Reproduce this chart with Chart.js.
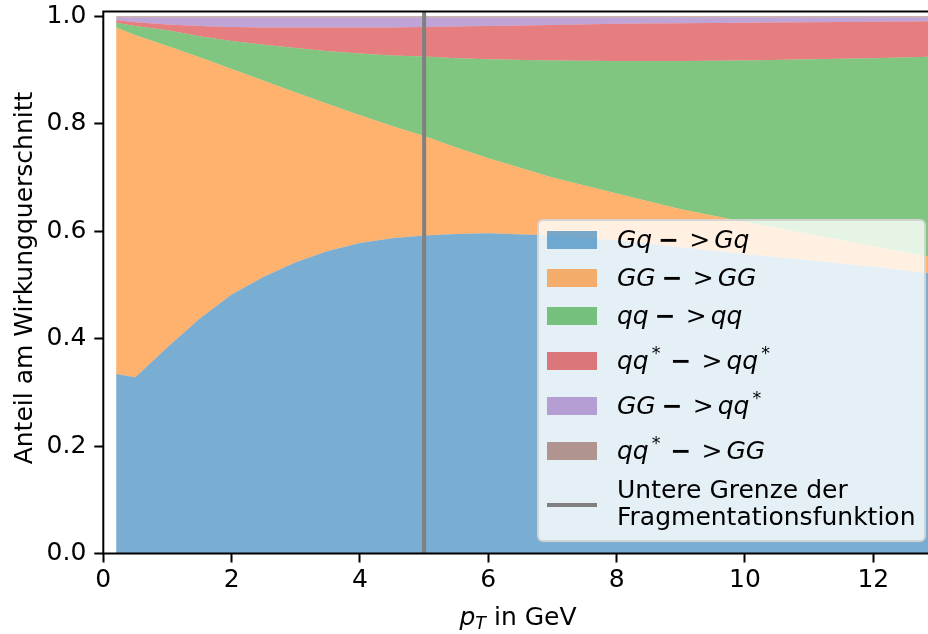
<!DOCTYPE html>
<html>
<head>
<meta charset="utf-8">
<script src="https://cdn.jsdelivr.net/npm/chart.js@4.4.1/dist/chart.umd.min.js"></script>
<style>
  html, body { margin:0; padding:0; background:#fff; overflow:hidden; }
  body { width:928px; height:634px; position:relative; font-family:'DejaVu Sans', sans-serif; color:#000; }
  #wrap { position:absolute; left:0; top:0; width:940px; height:634px; }
  #xtitle { position:absolute; left:318px; top:602px; width:400px; text-align:center; font-size:25px; line-height:30px; white-space:nowrap; }
  #xtitle sub { font-size:0.7em; line-height:0; vertical-align:-0.22em; }
  #ytitle { position:absolute; left:-226px; top:263px; width:500px; height:30px; text-align:center; font-size:25px; line-height:30px; transform:rotate(-90deg); white-space:nowrap; }
  #legend { position:absolute; left:537px; top:219px; width:389px; height:323px; box-sizing:border-box;
            background:rgba(255,255,255,0.8); border:2px solid rgba(204,204,204,0.8); border-radius:6px; font-size:25px; }
  .row { position:relative; height:38px; }
  .row.star { height:45px; }
  .row .h { position:absolute; left:8px; width:50px; height:18px; top:10px; }
  .row.star .h { top:17px; }
  .row .t { position:absolute; left:78px; top:4px; line-height:30px; white-space:nowrap; }
  .row.star .t { top:11px; }
  .row.cut { height:70px; }
  .row.cut .h { height:4px; top:33px; }
  .row.cut .t { top:6px; line-height:27px; }
  .mi { margin:0 10px 0 6px; font-weight:bold; }
  .gt { margin-right:4px; }
  sup.st { font-size:0.7em; font-style:normal; line-height:0; vertical-align:baseline; position:relative; top:-0.6em; margin:0 4px 0 3px; }
</style>
</head>
<body>
<div id="wrap"><canvas id="chart" width="940" height="634"></canvas></div>
<div id="ytitle">Anteil am Wirkungquerschnitt</div>
<div id="xtitle"><i>p</i><sub><i>T</i></sub> in GeV</div>
<div id="legend"></div>
<script>
// transverse momentum grid (GeV)
const pT = [0.2, 0.5, 1, 1.5, 2, 2.5, 3, 3.5, 4, 4.5, 5, 5.5, 6, 7, 8, 9, 10, 11, 12, 13];

// share of the cross section per subprocess
const gqToGq   = [0.334, 0.328, 0.384, 0.437, 0.482, 0.515, 0.542, 0.563, 0.578, 0.587, 0.592, 0.595, 0.596, 0.592, 0.583, 0.570, 0.557, 0.546, 0.534, 0.520];
const ggToGg   = [0.645, 0.637, 0.561, 0.487, 0.420, 0.365, 0.316, 0.274, 0.238, 0.209, 0.185, 0.161, 0.140, 0.108, 0.087, 0.071, 0.060, 0.049, 0.038, 0.029];
const qqToQq   = [0.009, 0.017, 0.029, 0.039, 0.052, 0.067, 0.083, 0.098, 0.115, 0.131, 0.148, 0.166, 0.184, 0.218, 0.247, 0.276, 0.301, 0.325, 0.350, 0.376];
const qqbToQqb = [0.005, 0.007, 0.011, 0.019, 0.026, 0.032, 0.038, 0.044, 0.048, 0.052, 0.055, 0.059, 0.062, 0.066, 0.069, 0.070, 0.070, 0.069, 0.068, 0.066];
const ggToQqb  = [0.005, 0.009, 0.013, 0.016, 0.018, 0.019, 0.019, 0.019, 0.019, 0.019, 0.018, 0.017, 0.016, 0.014, 0.012, 0.011, 0.010, 0.009, 0.008, 0.007];
const qqbToGg  = [0.002, 0.002, 0.002, 0.002, 0.002, 0.002, 0.002, 0.002, 0.002, 0.002, 0.002, 0.002, 0.002, 0.002, 0.002, 0.002, 0.002, 0.002, 0.002, 0.002];

const seriesNames  = ['Gq->Gq', 'GG->GG', 'qq->qq', 'qq*->qq*', 'GG->qq*', 'qq*->GG'];
const seriesValues = [gqToGq, ggToGg, qqToQq, qqbToQqb, ggToQqb, qqbToGg];
const seriesColors = ['rgba(31,119,180,0.6)', 'rgba(255,127,14,0.6)', 'rgba(44,160,44,0.6)',
                      'rgba(214,39,40,0.6)', 'rgba(148,103,189,0.6)', 'rgba(140,86,75,0.6)'];

// lower limit of the fragmentation function
const cutPT = 5;
const cutLabel = ['Untere Grenze der', 'Fragmentationsfunktion'];

const xTicks = [0, 2, 4, 6, 8, 10, 12];
const yTicks = [0, 0.2, 0.4, 0.6, 0.8, 1.0];
const X_MAX = 13, Y_MAX = 1.009;

const FONT = { family: 'DejaVu Sans', size: 25 };

const datasets = seriesValues.map((vals, i) => ({
  label: seriesNames[i],
  data: pT.map((x, j) => ({ x, y: vals[j] })),
  backgroundColor: seriesColors[i],
  borderColor: 'rgba(0,0,0,0)',
  borderWidth: 0,
  pointRadius: 0,
  fill: i === 0 ? 'origin' : '-1',
  stack: 'procs',
  order: 1,
}));
datasets.push({
  label: cutLabel.join(' '),
  data: [{ x: cutPT, y: 0 }, { x: cutPT, y: Y_MAX }],
  borderColor: '#808080',
  borderWidth: 4,
  pointRadius: 0,
  fill: false,
  stack: 'cut',
  order: 0,
});

const spines = {
  id: 'spines',
  afterDatasetsDraw(chart) {
    const { ctx, chartArea: a } = chart;
    ctx.save();
    ctx.strokeStyle = '#000';
    ctx.lineWidth = 2;
    ctx.strokeRect(a.left, a.top, a.right - a.left, a.bottom - a.top);
    ctx.restore();
  }
};

const tickGrid = { drawOnChartArea: false, drawTicks: true, tickLength: 9, tickWidth: 2, tickColor: '#000', color: '#000' };

new Chart(document.getElementById('chart'), {
  type: 'line',
  data: { datasets },
  options: {
    responsive: false,
    animation: false,
    events: [],
    layout: { padding: { top: 11.5, right: 2.5, left: 0, bottom: 0 } },
    plugins: { legend: { display: false }, tooltip: { enabled: false } },
    scales: {
      x: {
        type: 'linear', min: 0, max: X_MAX,
        grid: tickGrid, border: { display: false },
        afterBuildTicks: s => { s.ticks = xTicks.map(v => ({ value: v })); },
        afterFit: s => { s.height = 634 - 553.5; s.paddingLeft = 0; s.paddingRight = 0; },
        ticks: { color: '#000', font: FONT, padding: 3, maxRotation: 0, callback: v => String(v) },
      },
      y: {
        min: 0, max: Y_MAX, stacked: true,
        grid: tickGrid, border: { display: false },
        afterBuildTicks: s => { s.ticks = yTicks.map(v => ({ value: v })); },
        afterFit: s => { s.width = 103.3; s.paddingTop = 0; s.paddingBottom = 0; },
        ticks: { color: '#000', font: FONT, padding: 8, callback: v => v.toFixed(1) },
      },
    },
  },
  plugins: [spines],
});

// legend (drawn over the plot, semi-transparent like the original)
function mathPart(s) {
  return s.endsWith('*') ? `<i>${s.slice(0, -1)}</i><sup class="st">*</sup>` : `<i>${s}</i>`;
}
function mathLabel(name) {
  const [a, b] = name.split('->');
  return `${mathPart(a)}<span class="mi">−</span><span class="gt">&gt;</span>${mathPart(b)}`;
}
const legend = document.getElementById('legend');
legend.innerHTML = seriesNames.map((n, i) => `
  <div class="row${n.includes('*') ? ' star' : ''}">
    <div class="h" style="background:${seriesColors[i]}"></div>
    <div class="t">${mathLabel(n)}</div>
  </div>`).join('') + `
  <div class="row cut">
    <div class="h" style="background:#808080"></div>
    <div class="t">${cutLabel.join('<br>')}</div>
  </div>`;
</script>
</body>
</html>
